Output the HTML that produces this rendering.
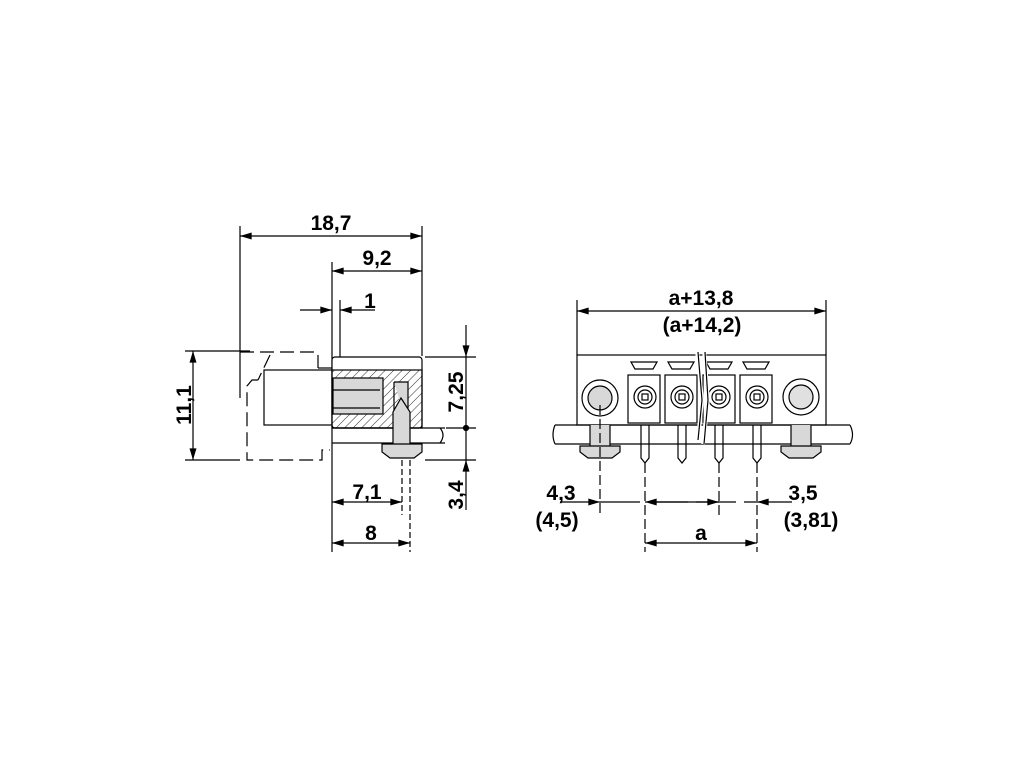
<!DOCTYPE html><html><head><style>body{margin:0;background:#fff}svg{display:block}text{font-family:"Liberation Sans",sans-serif;font-weight:bold;font-size:21px;fill:#000}</style></head><body>
<svg width="1020" height="765" viewBox="0 0 1020 765" xmlns="http://www.w3.org/2000/svg">
<defs>
<marker id="a" viewBox="0 0 10 6" refX="10" refY="3" markerWidth="18" markerHeight="7" markerUnits="userSpaceOnUse" orient="auto-start-reverse"><path d="M0,0L10,3L0,6z" fill="#000"/></marker>
<pattern id="h" width="6" height="6" patternUnits="userSpaceOnUse" patternTransform="rotate(45)"><line x1="0" y1="0" x2="0" y2="6" stroke="#000" stroke-width="0.8"/></pattern>
</defs>
<g stroke="#000" stroke-width="1.2" fill="none">
<line x1="240" y1="226" x2="240" y2="398"/><line x1="422" y1="226" x2="422" y2="356"/>
<line x1="332" y1="262" x2="332" y2="552"/><line x1="340" y1="300" x2="340" y2="358"/>
<line x1="185" y1="351" x2="250" y2="351"/><line x1="185" y1="460" x2="240" y2="460"/>
<line x1="425" y1="357" x2="476" y2="357"/><line x1="446" y1="428" x2="476" y2="428"/><line x1="425" y1="460" x2="476" y2="460"/>
<line x1="402" y1="460" x2="402" y2="515" stroke-dasharray="6,3"/><line x1="410" y1="460" x2="410" y2="552" stroke-dasharray="6,3"/>
<line x1="240" y1="236" x2="422" y2="236" marker-start="url(#a)" marker-end="url(#a)"/>
<line x1="332" y1="271" x2="422" y2="271" marker-start="url(#a)" marker-end="url(#a)"/>
<line x1="300" y1="310" x2="332" y2="310" marker-end="url(#a)"/>
<line x1="375" y1="310" x2="340" y2="310" marker-end="url(#a)"/>
<line x1="193" y1="351" x2="193" y2="460" marker-start="url(#a)" marker-end="url(#a)"/>
<line x1="466" y1="325" x2="466" y2="357" marker-end="url(#a)"/>
<line x1="466" y1="357" x2="466" y2="460"/>
<line x1="466" y1="510" x2="466" y2="460" marker-end="url(#a)"/>
<line x1="332" y1="502" x2="402" y2="502" marker-start="url(#a)" marker-end="url(#a)"/>
<line x1="332" y1="543" x2="410" y2="543" marker-start="url(#a)" marker-end="url(#a)"/>
<path d="M240,352 H316 Q318,352 318,356 V368 M270,355 L258,380 M258,380 H252 L247,386 V460 H322 V450 H330" stroke-dasharray="14,6"/>
<rect x="264" y="370" width="68" height="55" fill="#fff"/>
<line x1="318" y1="368" x2="332" y2="368"/>
<rect x="332" y="357" width="90" height="71" rx="3" fill="#fff"/>
<rect x="332" y="370" width="90" height="58" fill="url(#h)"/>
<rect x="333" y="378" width="50" height="36" fill="#d8d8d8"/>
<line x1="333" y1="390" x2="380" y2="390"/><line x1="333" y1="408" x2="380" y2="408"/>
<path d="M332,428 H445 M332,443 H445 M440,428 Q446,435 440,443"/>
<path d="M394,382 H408 V428 M394,382 V428" fill="#d8d8d8"/>
<path d="M401,398 L410,412 V448 H393 V412 Z" fill="#d8d8d8"/>
<path d="M382,444 H422 V452 L414,458 H390 L382,452 Z" fill="#d8d8d8"/>
<circle cx="466" cy="428" r="2.5" fill="#000"/>
<line x1="577" y1="300" x2="577" y2="355"/><line x1="826" y1="300" x2="826" y2="355"/>
<line x1="577" y1="311" x2="826" y2="311" marker-start="url(#a)" marker-end="url(#a)"/>
<rect x="577" y="355" width="249" height="70" fill="#fff"/>
<path d="M555,425 H850 M555,444 H850 M555,425 Q551,435 555,444 M850,425 Q855,435 850,444"/>
<circle cx="600" cy="398" r="18"/><circle cx="600" cy="398" r="12" fill="#d8d8d8"/>
<circle cx="801" cy="397" r="18"/><circle cx="801" cy="397" r="12" fill="#e0e0e0"/>
<path d="M590,425 V446 H610 V425 M580,446 H620 V452 L612,458 H588 L580,452 Z M791,425 V446 H811 V425 M781,446 H821 V452 L813,458 H789 L781,452 Z" fill="#d8d8d8"/>
<g>
<rect x="628" y="375" width="32" height="48"/><rect x="665" y="375" width="32" height="48"/><rect x="703" y="375" width="32" height="48"/><rect x="740" y="375" width="32" height="48"/>
<path d="M631,362 H657 L653,369 H635 Z M668,362 H694 L690,369 H672 Z M706,362 H732 L728,369 H710 Z M743,362 H769 L765,369 H747 Z"/>
<circle cx="645" cy="397" r="11"/><circle cx="682" cy="397" r="11"/><circle cx="719" cy="397" r="11"/><circle cx="757" cy="397" r="11"/>
<circle cx="645" cy="397" r="7"/><circle cx="682" cy="397" r="7"/><circle cx="719" cy="397" r="7"/><circle cx="757" cy="397" r="7"/>
<rect x="642" y="394" width="6" height="6"/><rect x="679" y="394" width="6" height="6"/><rect x="716" y="394" width="6" height="6"/><rect x="754" y="394" width="6" height="6"/>
<path d="M641,425 V458 L645,463 L649,458 V425 M678,425 V458 L682,463 L686,458 V425 M715,425 V458 L719,463 L723,458 V425 M753,425 V458 L757,463 L761,458 V425"/>
</g>
<path d="M697,350 L702,400 L698,440 M704,350 L708,400 L703,444" stroke="#fff" stroke-width="4"/>
<path d="M698,352 L702,400 L698,440 M705,352 L708,400 L704,444"/>
<g stroke-dasharray="10,4">
<line x1="600" y1="405" x2="600" y2="515"/><line x1="645" y1="463" x2="645" y2="552"/><line x1="719" y1="463" x2="719" y2="515"/><line x1="757" y1="463" x2="757" y2="552"/>
</g>
<line x1="560" y1="502" x2="600" y2="502" marker-end="url(#a)"/>
<line x1="600" y1="502" x2="757" y2="502" stroke-dasharray="40,8"/>
<line x1="685" y1="502" x2="645" y2="502" marker-end="url(#a)"/>
<line x1="685" y1="502" x2="719" y2="502" marker-end="url(#a)"/>
<line x1="792" y1="502" x2="757" y2="502" marker-end="url(#a)"/>
<line x1="645" y1="543" x2="757" y2="543" marker-start="url(#a)" marker-end="url(#a)"/>
</g>
<text x="331" y="230" text-anchor="middle">18,7</text>
<text x="377" y="265" text-anchor="middle">9,2</text>
<text x="370" y="308" text-anchor="middle">1</text>
<text x="367" y="499" text-anchor="middle">7,1</text>
<text x="371" y="540" text-anchor="middle">8</text>
<text transform="translate(191,405) rotate(-90)" text-anchor="middle">11,1</text>
<text transform="translate(463,392) rotate(-90)" text-anchor="middle">7,25</text>
<text transform="translate(463,495) rotate(-90)" text-anchor="middle">3,4</text>
<text x="701" y="305" text-anchor="middle">a+13,8</text>
<text x="702" y="332" text-anchor="middle">(a+14,2)</text>
<text x="561" y="500" text-anchor="middle">4,3</text>
<text x="557" y="527" text-anchor="middle">(4,5)</text>
<text x="803" y="500" text-anchor="middle">3,5</text>
<text x="811" y="527" text-anchor="middle">(3,81)</text>
<text x="701" y="540" text-anchor="middle">a</text>
</svg></body></html>
